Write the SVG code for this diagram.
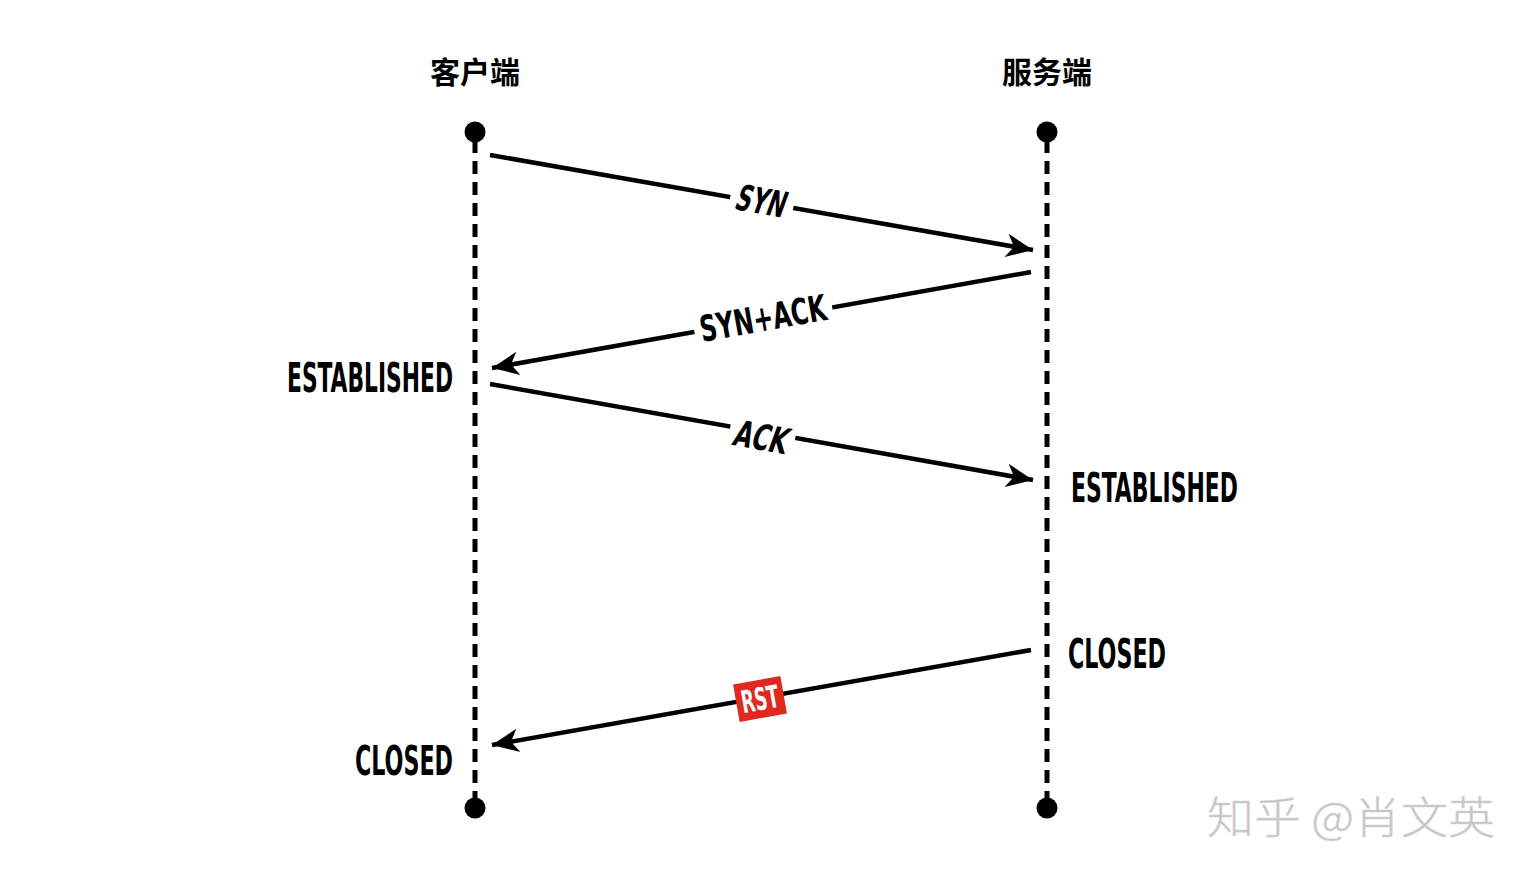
<svg xmlns="http://www.w3.org/2000/svg" width="1532" height="880" viewBox="0 0 1532 880">
<style>
.life{stroke:#000;stroke-width:5;stroke-dasharray:13 8;fill:none}
.msg{stroke:#000;stroke-width:4.5;fill:none}
.lbl{font-family:"Liberation Sans Narrow","DejaVu Sans Condensed","Liberation Sans",sans-serif;font-weight:bold;fill:#000}
.hdr{font-family:"Noto Sans CJK SC","Noto Sans",sans-serif;font-weight:bold;font-size:30px;fill:#000}
.wm{font-family:"Noto Sans CJK SC","Noto Sans",sans-serif;font-weight:300;font-size:44px;fill:#c4c4c4;stroke:#d8d8d8;stroke-width:0.6}
</style>
<defs>
<marker id="ah" markerUnits="userSpaceOnUse" markerWidth="30" markerHeight="30" viewBox="-26 -12 28 24" refX="0" refY="0" orient="auto">
<path d="M0,0 L-25,-11 L-18,0 L-25,11 Z" fill="#000"/>
</marker>
</defs>
<rect width="1532" height="880" fill="#fff"/>
<g id="client">
<text class="hdr" x="475" y="83" text-anchor="middle">客户端</text>
<line class="life" x1="475" y1="140" x2="475" y2="800"/>
<circle cx="475" cy="132" r="10.5" fill="#000"/>
<circle cx="475" cy="808" r="10.5" fill="#000"/>
</g>
<g id="server">
<text class="hdr" x="1047" y="83" text-anchor="middle">服务端</text>
<line class="life" x1="1047" y1="140" x2="1047" y2="800"/>
<circle cx="1047" cy="132" r="10.5" fill="#000"/>
<circle cx="1047" cy="808" r="10.5" fill="#000"/>
</g>
<g id="connectors">
<line class="msg" x1="490" y1="155" x2="1033" y2="250" marker-end="url(#ah)"/>
<line class="msg" x1="1031" y1="272" x2="492" y2="368" marker-end="url(#ah)"/>
<line class="msg" x1="490" y1="384" x2="1033" y2="480" marker-end="url(#ah)"/>
<line class="msg" x1="1031" y1="650" x2="492" y2="745" marker-end="url(#ah)"/>
</g>
<g id="label-syn" transform="translate(762,201) rotate(9.9)">
<rect x="-32" y="-20" width="64" height="40" fill="#fff"/>
<text class="lbl" x="0" y="13" font-size="36" text-anchor="middle" textLength="50" lengthAdjust="spacingAndGlyphs" transform="skewX(-10)">SYN</text>
</g>
<g id="label-synack" transform="translate(763,318) rotate(-10.1)">
<rect x="-70" y="-20" width="140" height="40" fill="#fff"/>
<text class="lbl" x="0" y="13" font-size="36" text-anchor="middle" textLength="128" lengthAdjust="spacingAndGlyphs">SYN+ACK</text>
</g>
<g id="label-ack" transform="translate(762,437) rotate(9.9)">
<rect x="-33" y="-20" width="66" height="40" fill="#fff"/>
<text class="lbl" x="0" y="13" font-size="36" text-anchor="middle" textLength="54" lengthAdjust="spacingAndGlyphs" transform="skewX(-10)">ACK</text>
</g>
<g id="label-rst" transform="translate(760,699) rotate(-10)">
<rect x="-24" y="-19" width="48" height="38" fill="#e0281e"/>
<text x="0" y="11" font-family="Liberation Sans Narrow,DejaVu Sans Condensed,Liberation Sans,sans-serif" font-weight="bold" font-size="31" fill="#fff" text-anchor="middle" textLength="38" lengthAdjust="spacingAndGlyphs">RST</text>
</g>
<g id="state-client-established">
<text class="lbl" x="453" y="392" font-size="40" text-anchor="end" textLength="166" lengthAdjust="spacingAndGlyphs">ESTABLISHED</text>
</g>
<g id="state-server-established">
<text class="lbl" x="1071" y="502" font-size="40" textLength="167" lengthAdjust="spacingAndGlyphs">ESTABLISHED</text>
</g>
<g id="state-server-closed">
<text class="lbl" x="1068" y="668" font-size="40" textLength="98" lengthAdjust="spacingAndGlyphs">CLOSED</text>
</g>
<g id="state-client-closed">
<text class="lbl" x="453" y="775" font-size="40" text-anchor="end" textLength="98" lengthAdjust="spacingAndGlyphs">CLOSED</text>
</g>
<g id="watermark">
<text class="wm" x="1207" y="834" textLength="288" lengthAdjust="spacingAndGlyphs">知乎 @肖文英</text>
</g>
</svg>
